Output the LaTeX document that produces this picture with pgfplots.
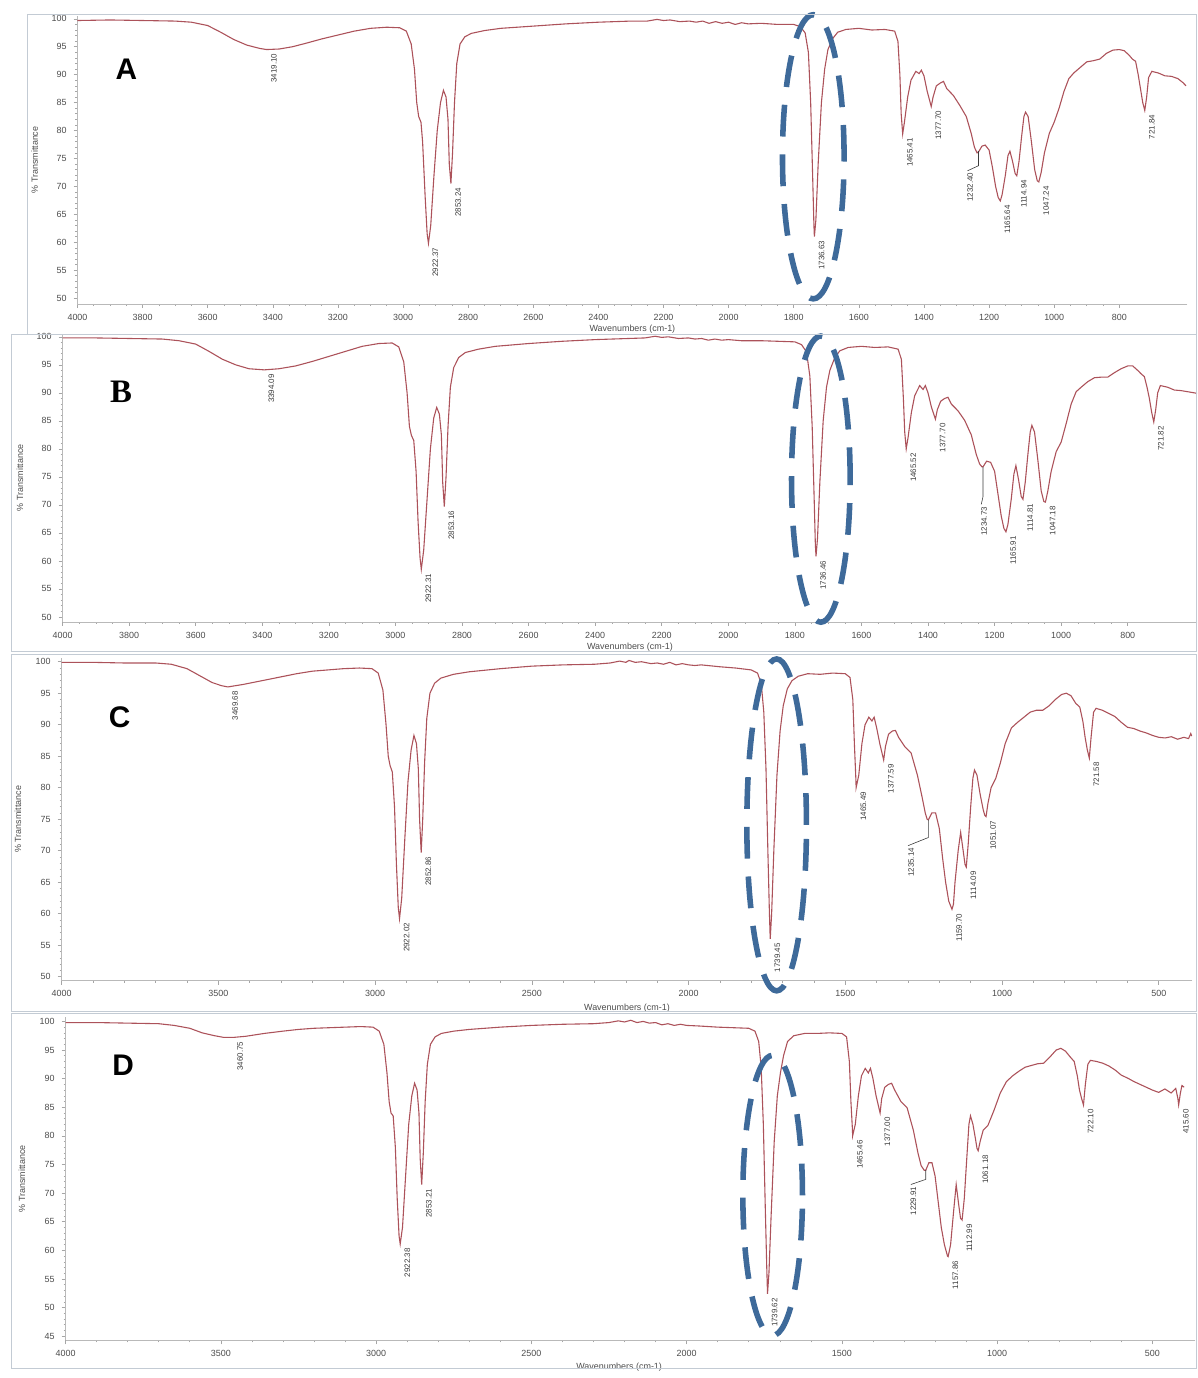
\documentclass[border=0pt]{standalone}
\usepackage{fontspec}
\setmainfont{Liberation Sans}
\newfontfamily\serifb{Liberation Serif}
\usepackage{pgfplots}
\pgfplotsset{compat=1.18}
\definecolor{spec}{RGB}{172,82,90}
\definecolor{ellc}{RGB}{62,106,154}
\definecolor{framec}{RGB}{195,203,212}
\definecolor{lblc}{RGB}{60,60,60}
\pgfplotsset{
  irbase/.style={
    scale only axis, clip=false,
    x dir=reverse,
    axis x line*=bottom, axis y line*=left,
    axis line style={draw=gray!55, line width=0.3pt},
    every tick/.style={gray!70, line width=0.3pt},
    major tick length=2pt, minor tick length=1pt,
    tick align=outside,
    ticklabel style={font=\fontsize{4.5}{5}\selectfont, text=black!70},
    xticklabel style={yshift=0.5pt},
    /pgf/number format/assume math mode=true,
    /pgf/number format/set thousands separator={},
    minor y tick num=4,
  },
}
\tikzset{
  lbl/.style={xshift=2pt, yshift=-2pt, rotate=90, anchor=north east, inner sep=0pt,
    font=\fontsize{4}{4}\selectfont, text=lblc},
  lbln/.style={rotate=90, anchor=north east, inner sep=0pt,
    font=\fontsize{4}{4}\selectfont, text=lblc},
  ell/.style={draw=ellc, line width=2.8pt, dash pattern=on 16pt off 9pt},
}
\newcommand{\pk}[3]{\node[lbl] at (axis cs:#1,#2) {#3};}
\newcommand{\pkn}[3]{\node[lbln] at (axis cs:#1,#2) {#3};}
\newcommand{\yl}[1]{\node[xshift=-#1, rotate=90, font=\fontsize{4.5}{5}\selectfont, text=black!70] at (rel axis cs:0,0.5) {\% Transmittance};}
\newcommand{\xl}[2]{\node[yshift=-#2, font=\fontsize{4.5}{5}\selectfont, text=black!70] at (rel axis cs:#1,0) {Wavenumbers (cm-1)};}
\begin{document}
\begin{tikzpicture}
% ---------------- Panel A ----------------
\begin{axis}[irbase, at={(39pt,536pt)}, anchor=south west,
  width=558.5pt, height=145pt,
  xmin=591, xmax=4000, ymin=48.93, ymax=100.53,
  xtick={4000,3800,...,800}, minor x tick num=3,
  ytick={50,55,...,100}]
\addplot[spec, line width=0.55pt] table {
4000 99.7
3900 99.8
3800 99.7
3700 99.6
3650 99.4
3600 98.8
3560 97.6
3520 96.3
3480 95.3
3440 94.7
3419 94.5
3380 94.6
3340 95.0
3300 95.6
3250 96.4
3200 97.1
3150 97.8
3100 98.3
3050 98.5
3010 98.4
2990 97.8
2975 95.5
2965 91
2958 85
2952 82.5
2945 81.5
2940 78
2932 68
2926 61.5
2922 59.8
2915 63
2905 72
2895 80
2885 85
2876 87.2
2868 86
2862 82
2858 74
2853 70.5
2848 76
2842 85
2835 92
2825 95.5
2810 96.8
2790 97.4
2750 97.9
2700 98.3
2600 98.7
2500 99.1
2400 99.4
2300 99.6
2250 99.6
2220 99.9
2200 99.7
2180 99.8
2150 99.5
2120 99.6
2100 99.4
2080 99.6
2060 99.2
2040 99.5
2020 99.2
2000 99.4
1980 99.0
1960 99.3
1940 99.1
1900 99.2
1850 99.0
1800 99.0
1780 98.6
1765 97.5
1755 94
1748 85
1742 72
1738 63
1736.6 61
1732 64
1725 74
1715 85
1705 91
1695 94.5
1680 96.5
1665 97.6
1640 98.1
1600 98.3
1560 98.0
1520 98.1
1490 97.8
1480 96
1474 90
1470 83
1465.4 79.4
1460 81.5
1450 86
1440 89
1425 90.6
1415 90.2
1408 90.8
1400 89.8
1390 87
1377.7 84.3
1372 86
1362 88
1350 88.5
1340 88.8
1330 87.5
1310 86.3
1290 84.5
1270 82.5
1255 79.5
1245 77
1237 76
1232 76.2
1222 77.2
1212 77.4
1200 76.5
1190 73.5
1180 70
1172 68
1165.6 67.4
1160 68.5
1150 72
1142 75.5
1136 76.3
1128 74.5
1120 72.3
1114.9 71.9
1108 74.5
1100 79
1093 82.5
1088 83.3
1080 82.5
1070 78
1060 73
1052 71
1047.2 70.8
1040 72.5
1030 76
1015 79.5
1000 81.5
985 84
970 87
955 89.3
940 90.3
920 91.3
900 92.3
880 92.5
860 92.8
840 93.8
820 94.4
800 94.5
785 94.3
770 93.5
760 92.8
750 92.4
742 90
735 87.5
728 85
721.8 83.6
716 86
710 89.5
700 90.6
680 90.3
660 89.8
640 89.7
620 89.3
605 88.6
595 88.0
};
\node[font=\bfseries\fontsize{15}{15}\selectfont] at (axis cs:3850,90.9) {A};
\yl{21.5pt}
\xl{0.5}{12.5pt}
\pk{3419.1}{94.5}{3419.10}
\pk{2922.4}{59.8}{2922.37}
\pk{2853.2}{70.5}{2853.24}
\pk{1736.6}{61}{1736.63}
\pk{1465.4}{79.4}{1465.41}
\pk{1377.7}{84.3}{1377.70}
\draw[lblc, line width=0.3pt] (axis cs:1232.4,76.3) -- (axis cs:1232.4,73.7) -- (axis cs:1266,72.8);
\pkn{1268}{72.5}{1232.40}
\pk{1165.6}{67.4}{1165.64}
\pk{1114.9}{71.9}{1114.94}
\pk{1047.2}{70.8}{1047.24}
\pk{721.8}{83.6}{721.84}
\draw[ell] (axis cs:1740,75.3) ellipse [x radius=15.5pt, y radius=71.5pt];
\end{axis}
% ---------------- Panel B ----------------
\begin{axis}[irbase, at={(31.5pt,376pt)}, anchor=south west,
  width=571pt, height=145pt,
  xmin=591, xmax=4000, ymin=49.1, ymax=100.53,
  xtick={4000,3800,...,800}, minor x tick num=3,
  ytick={50,55,...,100}]
\addplot[spec, line width=0.55pt] table {
4000 99.8
3900 99.8
3800 99.7
3700 99.6
3650 99.3
3600 98.7
3560 97.4
3520 96.0
3480 95.0
3440 94.3
3394 94.1
3350 94.3
3300 94.8
3250 95.6
3200 96.5
3150 97.4
3100 98.3
3050 98.8
3010 98.9
2990 98.2
2975 95.5
2965 90
2958 84
2952 82.4
2945 81.5
2938 76
2932 67
2926 60.5
2922.3 58.5
2915 62
2905 71
2895 80
2885 85.5
2876 87.4
2868 86.2
2862 82.5
2858 74
2853.2 69.7
2848 75
2842 84
2835 91
2825 94.5
2810 96.3
2790 97.2
2750 97.8
2700 98.3
2600 98.8
2500 99.2
2400 99.5
2300 99.7
2250 99.8
2220 100.1
2200 99.9
2180 100.0
2150 99.7
2120 99.8
2100 99.6
2080 99.7
2060 99.4
2040 99.6
2020 99.4
2000 99.5
1960 99.3
1900 99.3
1850 99.2
1800 99.1
1780 98.6
1765 97.3
1755 93
1748 84
1742 71
1738.5 63
1736.5 60.8
1732 64
1725 74
1715 85
1705 91
1695 94
1680 96.3
1665 97.5
1640 98.1
1600 98.3
1560 98.1
1520 98.2
1490 97.8
1480 96
1474 89
1470 83
1465.5 80
1460 82
1450 86.5
1440 89.5
1425 91.3
1415 90.6
1408 91.3
1400 90
1390 87.5
1377.7 85.3
1372 87
1362 88.5
1350 89
1340 89.2
1330 88
1310 86.8
1290 85.1
1270 82.5
1255 79
1245 77.3
1238 76.8
1234.7 76.8
1224 77.8
1212 77.6
1200 76
1190 72
1180 68
1172 65.8
1165.9 65.2
1160 66.5
1150 71
1142 75.5
1136 77
1128 74.5
1120 71.5
1114.8 71
1108 74
1100 79
1093 83
1088 84.2
1080 83
1070 78
1060 72.5
1052 70.6
1047.2 70.5
1040 72.5
1030 76
1015 79.5
1000 81.2
985 84.5
970 88
955 90.2
940 91
920 92
900 92.7
880 92.8
860 92.8
840 93.6
820 94.3
800 94.8
785 94.8
770 94
760 93.4
750 92.9
742 91
735 89
728 86.5
721.8 84.8
716 87
710 90
702 91.3
680 91
660 90.5
640 90.4
620 90.2
600 90
592 89.9
};
\node[font=\serifb\bfseries\fontsize{16.5}{16.5}\selectfont] at (axis cs:3824,90.1) {B};
\yl{21.5pt}
\xl{0.5}{12.5pt}
\pk{3394.1}{94.1}{3394.09}
\pk{2922.3}{58.5}{2922.31}
\pk{2853.2}{69.7}{2853.16}
\pk{1736.5}{60.8}{1736.46}
\pk{1465.5}{80}{1465.52}
\pk{1377.7}{85.3}{1377.70}
\draw[lblc, line width=0.3pt] (axis cs:1234.7,76.8) -- (axis cs:1234.7,71.5) -- (axis cs:1240,70.1);
\pkn{1241}{69.7}{1234.73}
\pk{1165.9}{65.2}{1165.91}
\pk{1114.8}{71}{1114.81}
\pk{1047.2}{70.5}{1047.18}
\pk{721.8}{84.8}{721.82}
\draw[ell] (axis cs:1722,74.6) ellipse [x radius=14.75pt, y radius=72pt];
\end{axis}
% ---------------- Panel C ----------------
\begin{axis}[irbase, at={(31pt,195.5pt)}, anchor=south west,
  width=569pt, height=162.5pt,
  xmin=393, xmax=4000, ymin=49.37, ymax=100.63,
  xtick={4000,3500,...,500}, minor x tick num=4,
  ytick={50,55,...,100}]
\addplot[spec, line width=0.55pt] table {
4000 99.9
3900 99.9
3800 99.8
3700 99.8
3650 99.6
3600 98.9
3560 97.8
3520 96.7
3490 96.2
3469.7 96.0
3420 96.4
3360 97.0
3300 97.6
3250 98.1
3200 98.5
3100 98.9
3050 99.0
3010 98.9
2990 98.2
2975 95.5
2965 90
2958 85
2952 83.5
2945 82.5
2938 77
2932 68
2926 61
2922 59.2
2915 62.5
2905 72
2895 81
2885 86
2876 88.3
2868 87
2862 83
2858 75
2852.9 69.7
2848 75
2842 84
2835 91
2825 95
2810 96.6
2790 97.4
2750 98.0
2700 98.4
2600 98.9
2500 99.3
2400 99.5
2300 99.6
2250 99.8
2220 100.1
2200 99.9
2190 100.2
2170 99.9
2150 100.0
2120 99.7
2100 99.8
2080 99.6
2060 99.9
2040 99.5
2020 99.7
2000 99.5
1980 99.4
1960 99.5
1900 99.2
1850 99.0
1800 98.7
1780 98.2
1768 96.5
1760 92
1753 83
1747 70
1742 60
1739.5 56
1735 60
1728 70
1718 82
1708 89
1698 93
1685 95.7
1670 97
1650 97.7
1620 98.1
1580 98.0
1540 98.2
1500 98.1
1485 97.5
1476 94
1471 87
1466 81
1465.5 80
1457 82
1447 87
1437 90
1425 91.2
1415 90.6
1408 91.2
1400 89.5
1390 87
1377.6 84.4
1372 86.5
1362 88.5
1350 89
1340 89.1
1330 88
1310 86.5
1290 85.5
1270 82
1255 78.5
1245 76
1239 75
1235 74.9
1224 76
1212 76
1200 73.5
1190 69
1180 65
1170 62
1159.7 60.7
1155 61.5
1150 65
1140 70
1132 72.9
1124 70
1118 67.8
1114.1 67.4
1108 71
1100 77
1093 81.5
1088 82.8
1080 82
1070 79
1060 76.5
1055 75.6
1051.1 75.4
1045 77.5
1035 80
1020 81.5
1005 84
990 87
970 89.5
950 90.4
930 91.2
910 92
890 92.3
870 92.3
850 93
830 94
810 94.8
795 95
780 94.6
765 93.4
752 92.8
742 90.5
735 88
728 86
721.6 84.7
716 88
708 92
700 92.6
680 92.3
660 91.8
640 91.3
620 90.4
600 89.6
580 89.4
560 89
540 88.7
520 88.3
500 88
480 87.9
460 88.1
440 87.7
420 88
405 87.8
398 88.6
395 88.2
};
\node[font=\bfseries\fontsize{15}{15}\selectfont] at (axis cs:3815,91.2) {C};
\yl{22pt}
\xl{0.5}{14pt}
\pk{3469.7}{96}{3469.68}
\pk{2922}{59.2}{2922.02}
\pk{2852.9}{69.7}{2852.86}
\pk{1739.5}{56}{1739.45}
\pk{1465.5}{80}{1465.49}
\pk{1377.6}{84.4}{1377.59}
\draw[lblc, line width=0.3pt] (axis cs:1235.1,74.9) -- (axis cs:1235.1,72.1) -- (axis cs:1300,70.8);
\pkn{1300}{70.5}{1235.14}
\pk{1159.7}{60.7}{1159.70}
\pk{1114.1}{67.4}{1114.09}
\pk{1051.1}{75.4}{1051.07}
\pk{721.6}{84.7}{721.58}
\draw[ell] (axis cs:1719,74.1) ellipse [x radius=15pt, y radius=83.5pt];
\end{axis}
% ---------------- Panel D ----------------
\begin{axis}[irbase, at={(33pt,14.5pt)}, anchor=south west,
  width=568.5pt, height=162.5pt,
  xmin=362, xmax=4000, ymin=44.27, ymax=100.69,
  xtick={4000,3500,...,500}, minor x tick num=4,
  ytick={45,50,...,100}]
\addplot[spec, line width=0.55pt] table {
4000 99.8
3900 99.8
3800 99.7
3700 99.6
3650 99.3
3600 98.8
3560 98.0
3520 97.5
3490 97.2
3460.8 97.2
3420 97.4
3360 97.9
3300 98.3
3250 98.6
3200 98.8
3100 99.0
3050 99.1
3010 99.0
2990 98.3
2975 96
2965 91
2958 86
2952 84
2945 83.5
2938 78
2932 69
2926 62.5
2922.4 61.1
2915 64
2905 73
2895 82
2885 87
2876 89.2
2868 88
2862 84
2858 76
2853.2 71.5
2848 77
2842 86
2835 92.5
2825 96
2810 97.3
2790 97.9
2750 98.3
2700 98.6
2600 99.0
2500 99.3
2400 99.5
2300 99.6
2250 99.8
2220 100.1
2200 99.9
2180 100.2
2160 99.8
2140 100.0
2120 99.7
2100 99.8
2080 99.4
2060 99.6
2040 99.3
2020 99.5
2000 99.3
1960 99.2
1900 99.0
1850 98.9
1800 98.8
1780 98.3
1768 96.5
1760 92
1753 82
1747 68
1742 57
1739.6 52.4
1735 56
1728 66
1718 79
1708 87
1698 91
1688 94
1675 96.5
1655 97.5
1620 97.9
1580 97.9
1540 98.0
1500 97.9
1485 97.3
1476 93
1471 86
1466 81
1465.5 80
1457 82
1447 87
1437 90.5
1425 91.8
1415 91
1408 91.8
1400 90
1390 87
1377 84
1372 86.5
1362 88.5
1350 89
1340 89.2
1330 88
1310 86
1290 84.9
1270 81
1255 77
1245 74.8
1235 74
1229.9 74
1220 75.3
1210 75.3
1200 73
1190 68.5
1180 64
1170 61
1160 59
1157.9 58.9
1150 61
1140 67
1132 71.5
1124 68
1118 65.6
1113 65.3
1106 69
1098 76
1091 82
1086 83.5
1078 82
1070 79.5
1065 77.8
1061.2 77.4
1055 79
1045 81
1030 81.8
1010 84.5
990 87.5
970 89.5
950 90.5
930 91.3
910 92
890 92.3
870 92.6
850 92.7
830 93.8
810 95
795 95.3
780 94.8
765 93.8
752 93
742 90.5
735 88
728 86.5
722.1 85.4
716 89
708 92.5
700 93.2
680 93
660 92.7
640 92.2
620 91.5
600 90.6
580 90.1
560 89.5
540 89
520 88.5
500 88
480 87.6
460 88.2
440 87.5
425 88.3
418 86.5
415.6 85.4
410 87.5
405 88.8
398 88.5
};
\node[font=\bfseries\fontsize{15}{15}\selectfont] at (axis cs:3815,92.4) {D};
\yl{22pt}
\xl{0.49}{13.5pt}
\pk{3460.8}{97.2}{3460.75}
\pk{2922.4}{61.1}{2922.38}
\pk{2853.2}{71.5}{2853.21}
\pk{1739.6}{52.4}{1739.62}
\pk{1465.5}{80}{1465.46}
\pk{1377}{84}{1377.00}
\draw[lblc, line width=0.3pt] (axis cs:1229.9,74) -- (axis cs:1229.9,72.4) -- (axis cs:1278,71.5);
\pkn{1280}{71.2}{1229.91}
\pk{1157.9}{58.9}{1157.86}
\pk{1113}{65.3}{1112.99}
\pk{1061.2}{77.4}{1061.18}
\pk{722.1}{85.4}{722.10}
\pk{415.6}{85.4}{415.60}
\draw[ell] (axis cs:1723,69.6) ellipse [x radius=15pt, y radius=70.5pt];
\end{axis}
% panel frames
\draw[framec, line width=0.5pt] (14pt,520.5pt) rectangle (602pt,681.5pt);
\draw[framec, line width=0.5pt] (6pt,361pt) rectangle (602pt,520.5pt);
\draw[framec, line width=0.5pt] (6pt,180pt) rectangle (602pt,359.5pt);
\draw[framec, line width=0.5pt] (6pt,0.3pt) rectangle (602pt,179pt);
\path[use as bounding box] (0,0) rectangle (602.5pt,689pt);
\end{tikzpicture}
\end{document}
